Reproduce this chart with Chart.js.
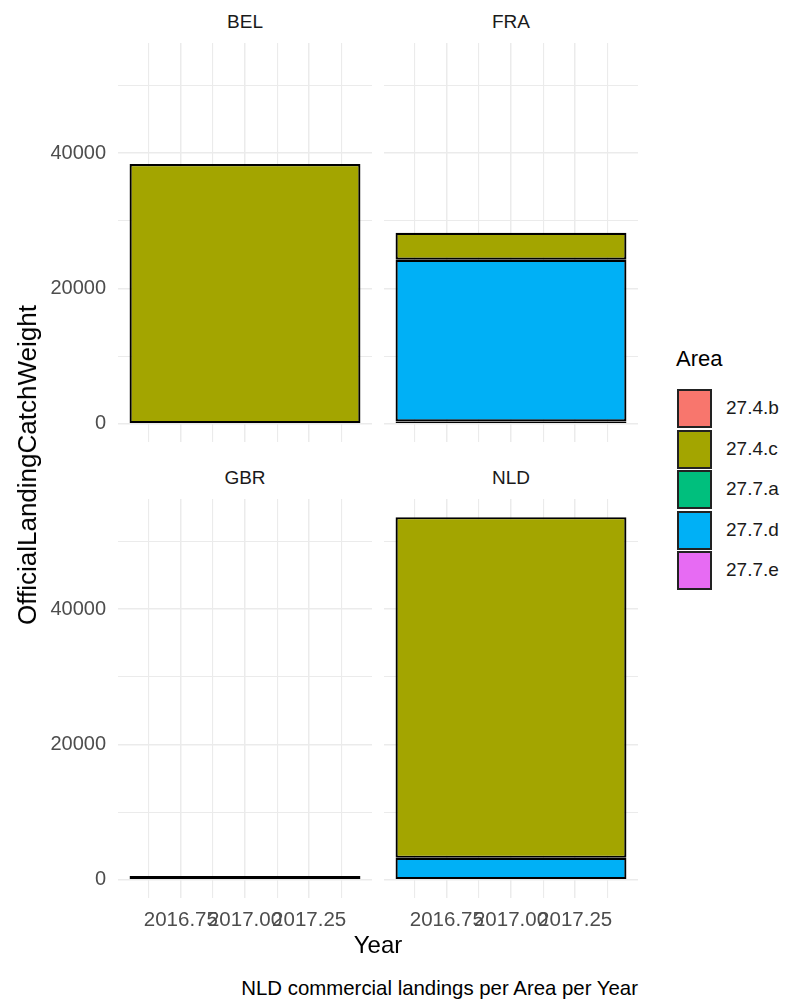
<!DOCTYPE html>
<html>
<head>
<meta charset="utf-8">
<script src="https://cdn.jsdelivr.net/npm/chart.js@4.4.1/dist/chart.umd.min.js"></script>
<style>
  body { margin: 0; background: #fff; font-family: "Liberation Sans", Arial, sans-serif; }
  #wrap { position: relative; width: 786px; height: 1005px; overflow: hidden; }
  canvas { position: absolute; }
  .strip { position: absolute; width: 254px; text-align: center; font-size: 19px; line-height: 22px; color: #1a1a1a; }
  .txt { position: absolute; white-space: nowrap; color: #000; }
  .key { position: absolute; left: 677px; width: 35px; height: 39px; box-sizing: border-box; border: 2px solid #222; }
  .keylab { position: absolute; left: 726px; font-size: 19px; line-height: 22px; color: #1a1a1a; }
</style>
</head>
<body>
<div id="wrap"></div>
<script>
// --- data ---
const areas = ['27.4.b', '27.4.c', '27.7.a', '27.7.d', '27.7.e'];
const areaColors = ['#F8766D', '#A3A500', '#00BF7D', '#00B0F6', '#E76BF3'];
const countries = ['BEL', 'FRA', 'GBR', 'NLD'];
const years = ['2017'];
// OfficialLandingCatchWeight per country (BEL, FRA, GBR, NLD)
const w274b = [0, 0, 560, 0];
const w274c = [38400, 4000, 0, 50350];
const w277a = [0, 0, 0, 0];
const w277d = [0, 23900, 0, 3250];
const w277e = [0, 350, 0, 0];
const series = [w274b, w274c, w277a, w277d, w277e];
const yTicks = [0, 10000, 20000, 30000, 40000, 50000];
const yLabels = [0, 20000, 40000];
const xTicks = [2016.625, 2016.75, 2016.875, 2017, 2017.125, 2017.25, 2017.375];
const xLabels = [2016.75, 2017, 2017.25];

const FONT = '"Liberation Sans", Arial, sans-serif';
const wrap = document.getElementById('wrap');

// shared (fixed) scales like facet_wrap
const totals = countries.map((c, i) => series.reduce((s, a) => s + a[i], 0));
const yMax = Math.max(...totals) * 1.05;
const yMin = -Math.max(...totals) * 0.05;
const xMin = 2017 - 0.495, xMax = 2017 + 0.495;

const panels = [
    { country: 'BEL', left: 0, top: 43, showY: true, showX: false },
    { country: 'FRA', left: 384, top: 43, showY: false, showX: false },
    { country: 'GBR', left: 0, top: 499, showY: true, showX: true },
    { country: 'NLD', left: 384, top: 499, showY: false, showX: true }
];

function addText(cls, html, css) {
    const d = document.createElement('div');
    d.className = cls;
    d.innerHTML = html;
    Object.assign(d.style, css);
    wrap.appendChild(d);
    return d;
}

const isMajor = (list, c) => !!(c && c.tick && list.includes(c.tick.value));

function makePanel(p) {
    const idx = countries.indexOf(p.country);
    const w = (p.showY ? 118 : 0) + 254;
    const h = 399 + (p.showX ? 40 : 0);
    const canvas = document.createElement('canvas');
    canvas.width = w; canvas.height = h;
    canvas.style.left = p.left + 'px'; canvas.style.top = p.top + 'px';
    canvas.style.width = w + 'px'; canvas.style.height = h + 'px';
    wrap.appendChild(canvas);

    addText('strip', p.country, { left: (p.showY ? 118 : p.left) + 'px', top: (p.top - 32) + 'px' });

    const datasets = areas.map((a, i) => ({
        label: a,
        data: [series[i][idx] || null],
        backgroundColor: areaColors[i],
        borderColor: '#000',
        borderWidth: 2.2,
        borderSkipped: false,
        categoryPercentage: 1,
        barPercentage: 0.9 / 0.99,
        xAxisID: 'x',
        yAxisID: 'y'
    })).reverse(); // ggplot stacks first level on top

    new Chart(canvas, {
        type: 'bar',
        data: { labels: years, datasets },
        options: {
            responsive: false,
            animation: false,
            layout: { padding: 0 },
            plugins: { legend: { display: false }, tooltip: { enabled: false } },
            scales: {
                x: { stacked: true, display: false },
                x2: {
                    type: 'linear', position: 'bottom', min: xMin, max: xMax,
                    offset: false,
                    afterBuildTicks: s => { s.ticks = xTicks.map(v => ({ value: v })); },
                    afterFit: s => {
                        s.height = p.showX ? 40 : 0;
                        s.paddingLeft = 0; s.paddingRight = 0;
                    },
                    grid: { offset: false, color: '#ebebeb', lineWidth: c => isMajor(xLabels, c) ? 1.5 : 1.1, drawTicks: false },
                    border: { display: false },
                    ticks: {
                        display: p.showX, autoSkip: false, maxRotation: 0, minRotation: 0, padding: 10,
                        color: '#4d4d4d', font: { size: 20.5, family: FONT },
                        callback: v => xLabels.includes(v) ? v.toFixed(2) : ''
                    }
                },
                y: {
                    stacked: true, min: yMin, max: yMax,
                    afterBuildTicks: s => { s.ticks = yTicks.map(v => ({ value: v })); },
                    afterFit: s => {
                        s.width = p.showY ? 118 : 0;
                        s.paddingTop = 0; s.paddingBottom = 0;
                    },
                    grid: { color: '#ebebeb', lineWidth: c => isMajor(yLabels, c) ? 1.5 : 1.1, drawTicks: false },
                    border: { display: false },
                    ticks: {
                        display: p.showY, padding: 12,
                        color: '#4d4d4d', font: { size: 20, family: FONT },
                        callback: v => yLabels.includes(v) ? String(v) : ''
                    }
                }
            }
        }
    });
}

panels.forEach(makePanel);

// axis titles and caption
addText('txt', 'Year', { left: '278px', width: '200px', textAlign: 'center', top: '931px', fontSize: '24px', lineHeight: '28px' });
addText('txt', 'NLD commercial landings per Area per Year', { right: (786 - 638) + 'px', top: '977px', fontSize: '20.4px', lineHeight: '22px' });
addText('txt', 'OfficialLandingCatchWeight', {
    left: '27px', top: '465px', fontSize: '26px', lineHeight: '30px',
    transform: 'translate(-50%, -50%) rotate(-90deg)'
});

// legend
addText('txt', 'Area', { left: '676px', top: '346px', fontSize: '22px', lineHeight: '26px' });
areas.forEach((a, i) => {
    const top = 389 + i * 40.6;
    addText('key', '', { top: top + 'px', background: areaColors[i] });
    addText('keylab', a, { top: (top + 8) + 'px' });
});
</script>
</body>
</html>
